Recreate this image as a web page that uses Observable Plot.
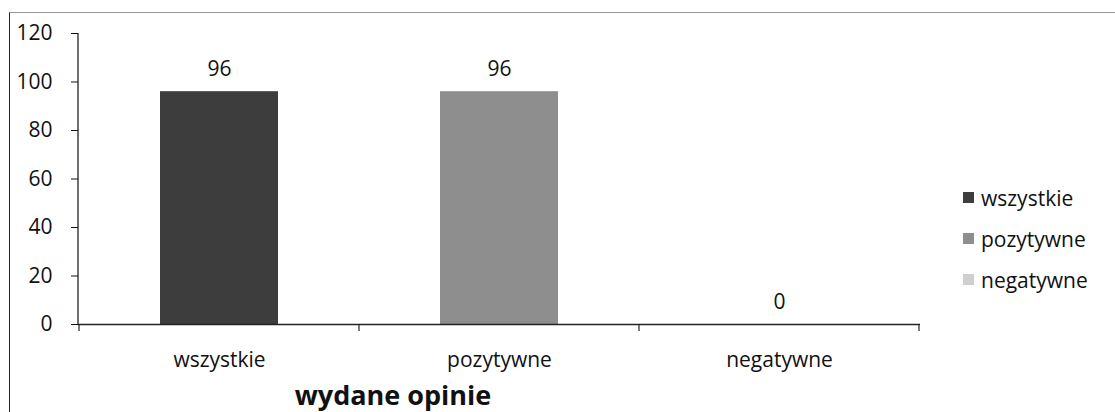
<!DOCTYPE html>
<html>
<head>
<meta charset="utf-8">
<script src="https://cdn.jsdelivr.net/npm/d3@7"></script>
<script src="https://cdn.jsdelivr.net/npm/@observablehq/plot@0.6"></script>
<style>
  html, body { margin: 0; padding: 0; background: #fff; }
  #wrap { position: relative; width: 1115px; height: 412px; overflow: hidden; font-family: "Open Sans", sans-serif; }
  #frame { position: absolute; left: 9px; top: 12px; width: 1200px; height: 500px; border-left: 1.5px solid #222; border-top: 1px solid #999; box-sizing: border-box; }
  #xtitle { position: absolute; left: 243px; width: 300px; top: 381px; line-height: 27px; text-align: center; font-weight: bold; font-size: 27px; color: #111; white-space: nowrap; }
  #legend { position: absolute; left: 963px; top: 177px; font-size: 21px; color: #111; }
  .li { display: flex; align-items: center; height: 41px; }
  .sw { width: 11px; height: 11px; margin-right: 7px; }
  svg { position: absolute; left: 0; top: 0; }
</style>
</head>
<body>
<div id="wrap">
  <div id="frame"></div>
  <div id="chart"></div>
  <div id="xtitle"></div>
  <div id="legend"></div>
</div>
<script>
const categories = ["wszystkie", "pozytywne", "negatywne"];
const values = [96, 96, 0];
const colors = ["#3d3d3d", "#8e8e8e", "#cfcfcf"];
const yTicks = [0, 20, 40, 60, 80, 100, 120];
const axisTitle = "wydane opinie";

const data = categories.map((c, i) => ({category: c, value: values[i]}));

// ticks at the band boundaries, placed through the x scale
const boundaryTicks = (index, scales, values_, dims) => {
  const g = d3.create("svg:g");
  const x = scales.x, y = scales.y;
  const step = x.step();
  const y0 = y(0);
  const edges = categories.map(c => x(c) + x.bandwidth() / 2 - step / 2);
  edges.push(edges[edges.length - 1] + step);
  for (const px of edges) {
    g.append("line").attr("x1", px).attr("x2", px).attr("y1", y0).attr("y2", y0 + 7)
      .attr("stroke", "#222").attr("stroke-width", 1.2);
  }
  return g.node();
};

const fs = 21;
const chart = Plot.plot({
  width: 1115,
  height: 412,
  marginLeft: 78,
  marginRight: 195,
  marginTop: 33,
  marginBottom: 88,
  style: {fontFamily: "Open Sans, sans-serif", fontSize: fs + "px", color: "#111", background: "transparent"},
  x: {domain: categories, paddingInner: 0.58, paddingOuter: 0.29, label: null},
  y: {domain: [0, 120], label: null},
  color: {domain: categories, range: colors},
  marks: [
    Plot.barY(data, {x: "category", y: "value", fill: "category"}),
    Plot.axisY({ticks: yTicks, tickSize: 7, tickPadding: 19, label: null, fontSize: fs}),
    Plot.ruleY([0], {stroke: "#222", strokeWidth: 1.3}),
    Plot.axisX({tickSize: 0, tickPadding: 28, label: null, fontSize: fs}),
    boundaryTicks,
    Plot.text(data, {x: "category", y: "value", text: d => String(d.value), dy: -22, fontSize: fs, fill: "#111"})
  ]
});
document.getElementById("chart").appendChild(chart);

// y-axis domain line, positioned through the y scale
const ys = chart.scale("y");
d3.select(chart).append("line")
  .attr("x1", 78).attr("x2", 78)
  .attr("y1", ys.apply(120)).attr("y2", ys.apply(0))
  .attr("stroke", "#222").attr("stroke-width", 1.3);

const legend = d3.select("#legend");
categories.forEach((c, i) => {
  const row = legend.append("div").attr("class", "li");
  row.append("div").attr("class", "sw").style("background", colors[i]);
  row.append("span").text(c);
});
document.getElementById("xtitle").textContent = axisTitle;
</script>
</body>
</html>
